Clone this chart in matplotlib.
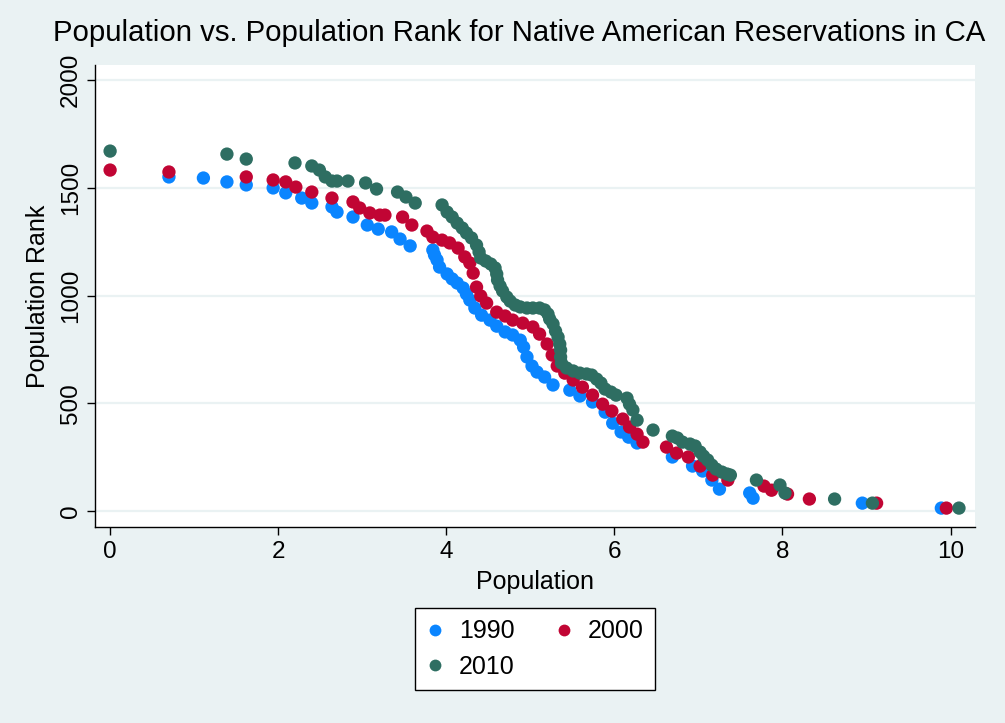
import matplotlib.pyplot as plt
from matplotlib.lines import Line2D

plt.rcParams["font.family"] = ["Liberation Sans", "DejaVu Sans"]

# log population vs. population rank, one pair of arrays per census year
pop_1990 = [0.70, 1.11, 1.39, 1.62, 1.94, 2.09, 2.28, 2.40, 2.64, 2.70, 2.89, 3.06,
            3.19, 3.35, 3.45, 3.57, 3.84, 3.86, 3.89, 3.92, 4.01, 4.07, 4.13, 4.20,
            4.24, 4.28, 4.34, 4.42, 4.52, 4.60, 4.70, 4.79, 4.88, 4.92, 4.96, 5.02,
            5.08, 5.17, 5.27, 5.47, 5.59, 5.74, 5.89, 5.98, 6.08, 6.17, 6.27, 6.69,
            6.93, 7.05, 7.16, 7.25, 7.61, 7.65, 8.95, 9.89]
rank_1990 = [1550, 1545, 1527, 1513, 1499, 1476, 1452, 1429, 1411, 1387, 1364, 1327,
             1308, 1295, 1262, 1230, 1211, 1188, 1165, 1132, 1100, 1077, 1058, 1035,
             1007, 979, 942, 909, 886, 858, 831, 817, 793, 761, 715, 673,
             645, 622, 585, 561, 534, 506, 459, 408, 367, 343, 316, 251,
             209, 186, 144, 102, 84, 60, 37, 14]

pop_2000 = [0.00, 0.70, 1.62, 1.94, 2.09, 2.21, 2.40, 2.64, 2.89, 2.97, 3.09, 3.21,
            3.27, 3.48, 3.59, 3.77, 3.84, 3.95, 4.04, 4.14, 4.22, 4.28, 4.32, 4.36,
            4.41, 4.48, 4.60, 4.70, 4.79, 4.91, 5.03, 5.11, 5.20, 5.26, 5.32, 5.41,
            5.51, 5.62, 5.74, 5.86, 5.97, 6.10, 6.18, 6.27, 6.34, 6.62, 6.74, 6.88,
            7.02, 7.17, 7.35, 7.78, 7.87, 8.06, 8.32, 9.12, 9.95]
rank_2000 = [1582, 1573, 1550, 1536, 1527, 1503, 1480, 1452, 1434, 1406, 1383, 1373,
             1373, 1364, 1327, 1299, 1271, 1257, 1244, 1220, 1179, 1151, 1104, 1039,
             998, 965, 923, 905, 886, 872, 854, 821, 775, 724, 673, 640,
             608, 575, 538, 496, 464, 427, 390, 357, 320, 297, 269, 251,
             209, 167, 144, 116, 97, 79, 56, 37, 14]

pop_2010 = [0.00, 1.39, 1.62, 2.20, 2.40, 2.49, 2.56, 2.64, 2.70, 2.83, 3.04, 3.17,
            3.42, 3.52, 3.63, 3.95, 4.01, 4.07, 4.13, 4.19, 4.24, 4.30, 4.36, 4.39,
            4.41, 4.47, 4.53, 4.58, 4.60, 4.61, 4.64, 4.67, 4.72, 4.76, 4.82, 4.88,
            4.96, 5.03, 5.11, 5.17, 5.21, 5.23, 5.27, 5.30, 5.33, 5.35, 5.36, 5.36,
            5.37, 5.43, 5.51, 5.59, 5.67, 5.73, 5.79, 5.84, 5.89, 5.96, 6.02, 6.15,
            6.18, 6.22, 6.27, 6.46, 6.69, 6.75, 6.81, 6.90, 6.96, 7.02, 7.06, 7.11,
            7.16, 7.21, 7.28, 7.34, 7.38, 7.69, 7.97, 8.03, 8.62, 9.07, 10.10]
rank_2010 = [1670, 1656, 1633, 1615, 1601, 1582, 1550, 1531, 1531, 1531, 1522, 1494,
             1480, 1457, 1429, 1420, 1387, 1364, 1336, 1313, 1290, 1267, 1234, 1202,
             1174, 1160, 1146, 1128, 1100, 1072, 1044, 1021, 993, 974, 956, 947,
             942, 942, 942, 933, 914, 891, 868, 835, 807, 775, 747, 715,
             687, 664, 650, 640, 636, 631, 612, 594, 566, 552, 538, 524,
             496, 469, 422, 376, 348, 339, 320, 311, 302, 274, 255, 237,
             213, 195, 181, 172, 167, 144, 121, 84, 56, 37, 14]

years = ["1990", "2000", "2010"]
colors = ["#0a85ff", "#c10534", "#2e6e62"]
bg = "#eaf2f3"

fig = plt.figure(figsize=(10.05, 7.23), dpi=100, facecolor=bg)
ax = fig.add_axes([0.0945, 0.271, 0.8756, 0.639])
ax.set_facecolor("white")

series = [(pop_1990, rank_1990), (pop_2000, rank_2000), (pop_2010, rank_2010)]
for (x, y), c in zip(series, colors):
    ax.scatter(x, y, s=92, color=c, edgecolors="none", zorder=3)

ax.set_xlim(-0.18, 10.29)
ax.set_ylim(-74, 2069)
ax.set_xticks([0, 2, 4, 6, 8, 10])
ax.set_yticks([0, 500, 1000, 1500, 2000])
ax.tick_params(axis="both", direction="out", length=6, width=1, labelsize=17.5,
               color="black")
ax.tick_params(axis="x", pad=4)
for lbl in ax.get_yticklabels():
    lbl.set_rotation(90)
    lbl.set_va("center")
ax.yaxis.grid(True, color=bg, linewidth=1.6, zorder=0)
ax.set_axisbelow(True)

for side in ["top", "right"]:
    ax.spines[side].set_visible(False)
for side in ["left", "bottom"]:
    ax.spines[side].set_linewidth(1)

ax.set_xlabel("Population", fontsize=18, labelpad=5)
ax.set_ylabel("Population Rank", fontsize=18, labelpad=7)

fig.text(53 / 1005, 1 - 33 / 723, "Population vs. Population Rank for Native American "
         "Reservations in CA", fontsize=21.2, ha="left", va="center")

handles = [Line2D([], [], marker="o", linestyle="none", markersize=8.5,
                  color=c, markeredgecolor="none") for c in colors]
# reorder so the two-column legend reads row by row
order = [0, 2, 1]
leg = fig.legend([handles[i] for i in order], [years[i] for i in order],
                 ncol=2, loc="upper center", bbox_to_anchor=(535 / 1005, 1 - 608 / 723),
                 fontsize=18, frameon=True, fancybox=False, edgecolor="black",
                 facecolor="white", framealpha=1, handlelength=0.7,
                 handletextpad=0.6, columnspacing=1.6, borderpad=0.45,
                 labelspacing=0.45, borderaxespad=0)
leg.get_frame().set_linewidth(1)

fig.savefig("out.png", dpi=100, facecolor=bg)
